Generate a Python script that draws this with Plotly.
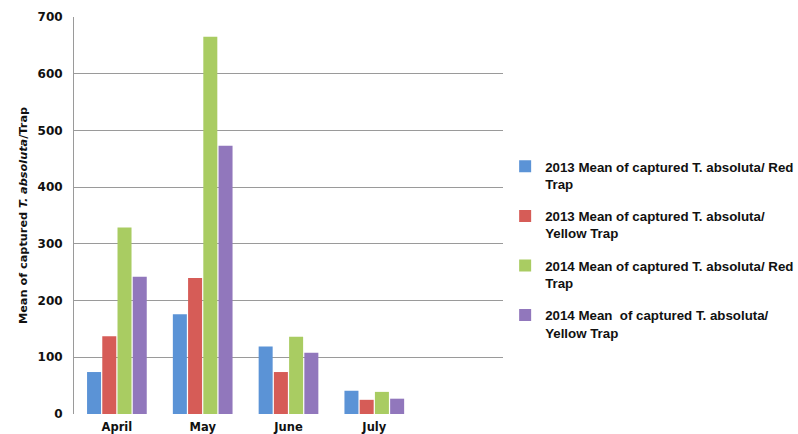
import plotly.graph_objects as go

months = ["April", "May", "June", "July"]
series_names = [
    "2013 Mean of captured T. absoluta/ Red<br>Trap",
    "2013 Mean of captured T. absoluta/<br>Yellow Trap",
    "2014 Mean of captured T. absoluta/ Red<br>Trap",
    "2014 Mean  of captured T. absoluta/<br>Yellow Trap",
]
red_2013 = [74, 176, 119, 41]
yellow_2013 = [137, 240, 74, 25]
red_2014 = [329, 665, 136, 39]
yellow_2014 = [242, 473, 108, 27]
colors = ["#5B93D6", "#D65C57", "#A9CC62", "#9177BC"]
y_ticks = [0, 100, 200, 300, 400, 500, 600, 700]

xpos = list(range(len(months)))
fig = go.Figure()
for i, (name, vals) in enumerate(zip(series_names, [red_2013, yellow_2013, red_2014, yellow_2014])):
    fig.add_trace(go.Bar(
        x=xpos, y=vals, name=name, marker=dict(color=colors[i], line=dict(width=0)),
        legendgroup=f"g{i}",
    ))

fig.update_layout(
    width=798, height=434,
    margin=dict(l=74, r=295, t=17, b=20, autoexpand=False),
    paper_bgcolor="white", plot_bgcolor="white",
    barmode="group", bargap=0.29, bargroupgap=0.08,
    showlegend=True,
    legend=dict(
        x=1.005, xanchor="left", y=0.662, yanchor="top",
        font=dict(family="Liberation Sans", size=13.3, color="#111111", weight=700),
        traceorder="grouped", tracegroupgap=12, valign="top",
        itemwidth=30,
    ),
    xaxis=dict(
        range=[-0.5, 4.5], tickvals=xpos, ticktext=months,
        showgrid=False, zeroline=False, showline=False, ticks="",
        ticklabelstandoff=4,
        tickfont=dict(family="DejaVu Sans", size=11.5, color="#111111", weight=700),
        automargin=False,
    ),
    yaxis=dict(
        range=[0, 700], tickvals=y_ticks, showgrid=True, gridcolor="#9A9A9A", gridwidth=1,
        zeroline=False, showline=True, linecolor="#9A9A9A", linewidth=1, ticks="",
        ticklabelstandoff=8,
        tickfont=dict(family="DejaVu Sans", size=12, color="#111111", weight=700),
        title=dict(text="Mean of captured <i>T. absoluta</i>/Trap", standoff=7,
                   font=dict(family="DejaVu Sans", size=11.3, color="#111111", weight=700)),
        automargin=False,
    ),
)

fig.write_html("out.html")
